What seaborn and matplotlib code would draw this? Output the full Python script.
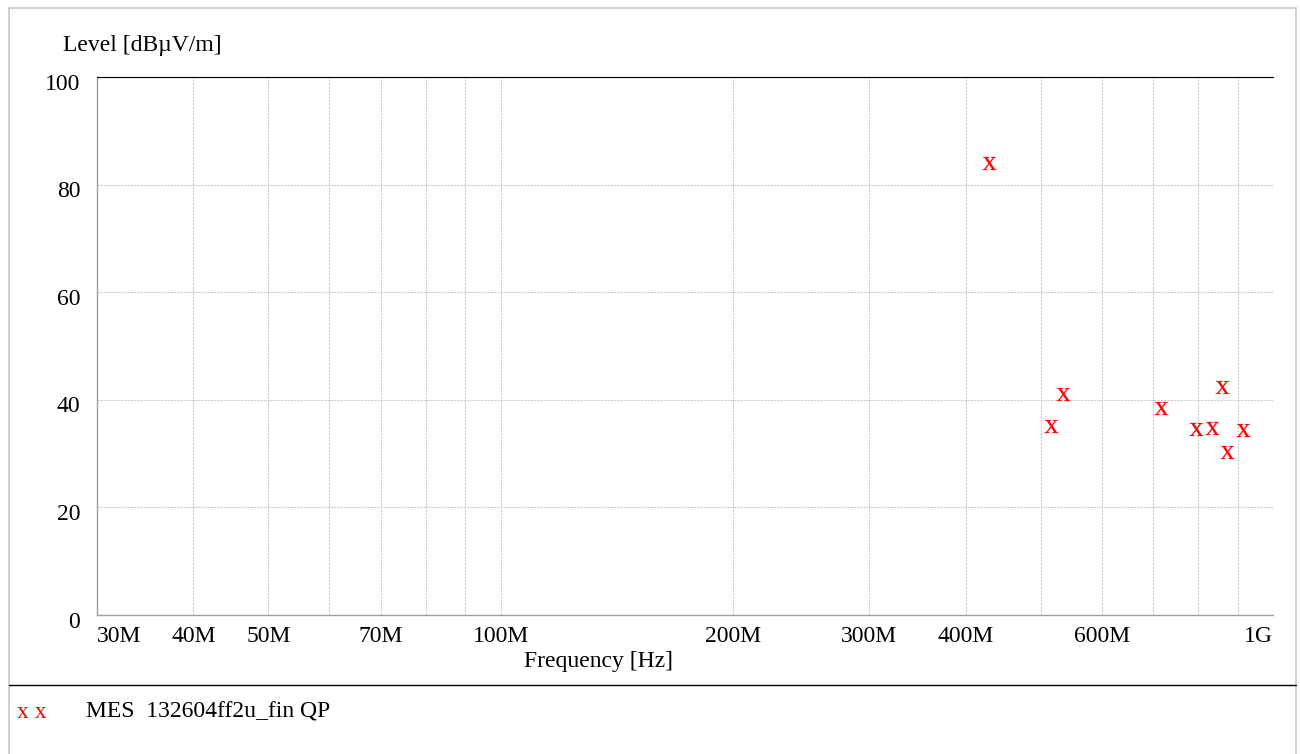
import numpy as np
import pandas as pd
import seaborn as sns
import matplotlib.pyplot as plt
import matplotlib.transforms as mtransforms
from matplotlib.ticker import FixedLocator, NullLocator
from matplotlib.patches import Rectangle
from matplotlib.lines import Line2D

# measured QP peaks
freq_hz = [429e6, 516e6, 535e6, 716e6, 795e6, 834e6, 859e6, 872e6, 915e6]
level_dbuv = [84.0, 35.1, 41.1, 38.5, 34.6, 34.8, 42.4, 30.3, 34.4]

grid_freqs = [30e6, 40e6, 50e6, 60e6, 70e6, 80e6, 90e6, 100e6,
              200e6, 300e6, 400e6, 500e6, 600e6, 700e6, 800e6, 900e6, 1e9]
label_freqs = [30e6, 40e6, 50e6, 70e6, 100e6, 200e6, 300e6, 400e6, 600e6, 1e9]
label_texts = ['30M', '40M', '50M', '70M', '100M', '200M', '300M', '400M', '600M', '1G']
y_ticks = [0, 20, 40, 60, 80, 100]

series_name = 'MES  132604ff2u_fin QP'

sns.set_theme(style='white')
plt.rcParams['font.family'] = ['Liberation Serif', 'DejaVu Serif']
plt.rcParams['text.color'] = 'black'
plt.rcParams['axes.labelcolor'] = 'black'
plt.rcParams['mathtext.fontset'] = 'custom'
plt.rcParams['mathtext.rm'] = 'Liberation Serif'

FS = 17

df = pd.DataFrame({'freq': freq_hz, 'level': level_dbuv})

fig = plt.figure(figsize=(13, 7.54), dpi=100)
ax = fig.add_axes([97 / 1300, 1 - 615 / 754, 1176 / 1300, 538 / 754])

sns.scatterplot(data=df, x='freq', y='level', ax=ax, marker=r'$\mathrm{x}$',
                color='red', s=95, linewidth=0.15, edgecolor='red', legend=False, zorder=5)

ax.set_xscale('log')
ax.set_xlim(30e6, 1e9)
ax.set_ylim(0, 100)

# grid lines at every step, labels only on some
ax.xaxis.set_major_locator(FixedLocator(grid_freqs))
ax.xaxis.set_minor_locator(NullLocator())
ax.set_xticks(grid_freqs)
ax.set_xticklabels(['' if f not in label_freqs else label_texts[label_freqs.index(f)]
                    for f in grid_freqs])
ax.set_yticks(y_ticks)
ax.set_yticklabels([str(v) for v in y_ticks])
ax.tick_params(axis='both', length=0, labelsize=FS, colors='black')
ax.tick_params(axis='x', pad=8)
ax.tick_params(axis='y', pad=12)
for lab in ax.get_xticklabels():
    if lab.get_text() == '30M':
        lab.set_horizontalalignment('left')
    elif lab.get_text() == '1G':
        lab.set_horizontalalignment('right')
shift = mtransforms.ScaledTranslation(0, -4.5 / 100, fig.dpi_scale_trans)
for lab in ax.get_yticklabels():
    lab.set_transform(lab.get_transform() + shift)

ax.grid(True, which='major', color='#cccccc', linestyle=(0, (2, 1)), linewidth=0.8)

for side in ['left', 'bottom']:
    ax.spines[side].set_color('#a0a0a0')
    ax.spines[side].set_linewidth(1.0)
ax.spines['right'].set_visible(False)
ax.spines['top'].set_color('black')
ax.spines['top'].set_linestyle((0, (1, 0.5)))
ax.spines['top'].set_linewidth(0.8)

ax.set_xlabel('Frequency [Hz]', fontsize=FS)
ax.xaxis.set_label_coords((599 - 97) / 1176, -(662 - 615) / 538)
ax.xaxis.label.set_verticalalignment('center')
ax.set_ylabel('')
fig.text(63 / 1300, 1 - 45 / 754, 'Level [dBµV/m]', fontsize=FS, ha='left', va='center')

# outer frame and legend separator
fig.patches.append(Rectangle((9 / 1300, -0.01), 1287 / 1300, 1 - 8 / 754 + 0.01,
                             transform=fig.transFigure, fill=False,
                             edgecolor='#c8c8c8', linewidth=1.2))
fig.lines.append(Line2D([9 / 1300, 1296 / 1300], [1 - 685 / 754, 1 - 685 / 754],
                        transform=fig.transFigure, color='black', linewidth=1.0))

fig.text(17 / 1300, 1 - 713 / 754, 'x x', fontsize=FS, color='red', ha='left', va='center')
fig.text(86 / 1300, 1 - 712 / 754, series_name, fontsize=FS, ha='left', va='center')

fig.savefig('out.png', dpi=100)
